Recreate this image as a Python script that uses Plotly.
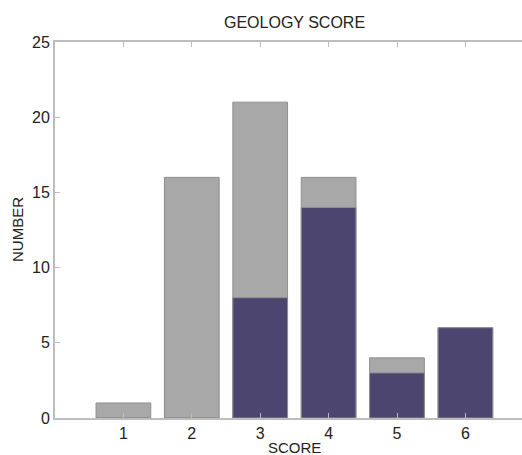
import plotly.graph_objects as go

scores = [1, 2, 3, 4, 5, 6]
total_counts = [1, 16, 21, 16, 4, 6]
subset_counts = [0, 0, 8, 14, 3, 6]

gray = "#a7a8a7"
navy = "#4b4570"
axis_col = "#bdbdbd"
font_fam = "Liberation Sans, Arial, sans-serif"
text_col = "#222222"

fig = go.Figure()
fig.add_trace(go.Bar(x=scores, y=total_counts, width=0.8,
                     marker=dict(color=gray, line=dict(color="#8f8f8f", width=1))))
fig.add_trace(go.Bar(x=scores, y=subset_counts, width=0.8,
                     marker=dict(color=navy, line=dict(color="#8f8f8f", width=1))))

fig.update_layout(
    barmode="overlay",
    width=526, height=455,
    margin=dict(l=55, r=0, t=42, b=37, autoexpand=False),
    paper_bgcolor="white", plot_bgcolor="white",
    showlegend=False,
    font=dict(family=font_fam, size=15, color=text_col),
    xaxis=dict(range=[0, 6.886], tickvals=scores, ticktext=[str(s) for s in scores],
               showgrid=False, zeroline=False, showline=True, linecolor=axis_col, linewidth=2,
               mirror="ticks", ticks="inside", ticklen=5, tickcolor=axis_col,
               automargin=False, tickfont=dict(size=16), ticklabelstandoff=0),
    yaxis=dict(range=[0, 25], tickvals=[0, 5, 10, 15, 20, 25],
               showgrid=False, zeroline=False, showline=True, linecolor=axis_col, linewidth=2,
               ticks="inside", ticklen=5, tickcolor=axis_col,
               automargin=False, tickfont=dict(size=16)),
    annotations=[
        dict(text="GEOLOGY SCORE", xref="x", yref="paper", x=3.5, y=1, yshift=20,
             showarrow=False, xanchor="center", yanchor="middle", font=dict(size=16)),
        dict(text="SCORE", xref="x", yref="paper", x=3.5, y=0, yshift=-29,
             showarrow=False, xanchor="center", yanchor="middle", font=dict(size=15)),
        dict(text="NUMBER", xref="paper", yref="paper", x=0, xshift=-38, y=0.5,
             showarrow=False, xanchor="center", yanchor="middle", textangle=-90,
             font=dict(size=15)),
    ],
)

fig.write_html("out.html", config={"displayModeBar": False},
               post_script="document.body.style.margin='0';document.body.style.overflow='hidden';")
